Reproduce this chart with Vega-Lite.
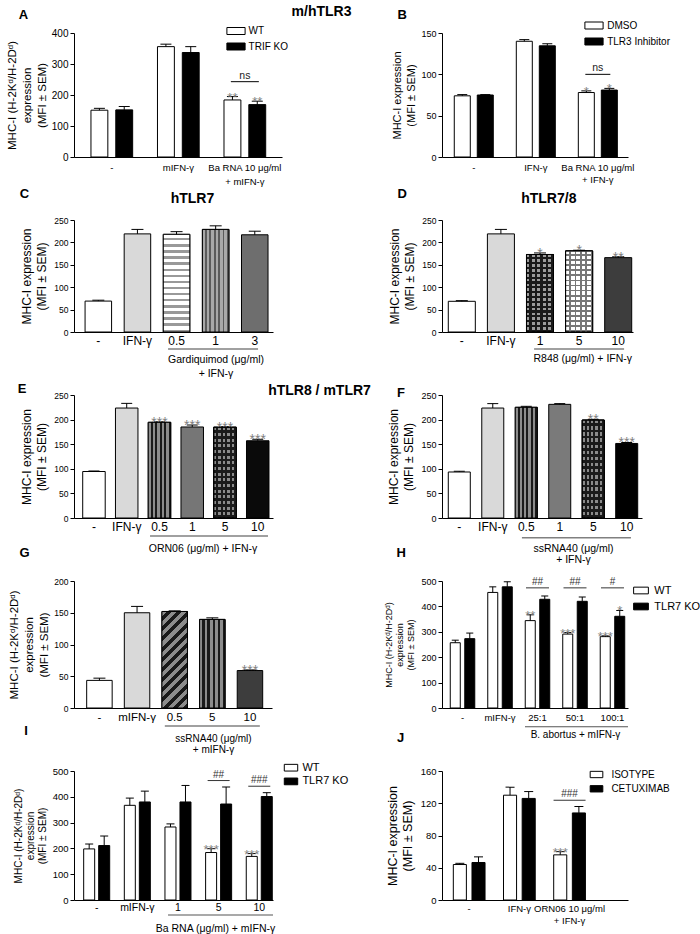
{
"$schema": "https://vega.github.io/schema/vega-lite/v6.json",
"background": "white",
"padding": {"left": 6, "top": 4, "right": 0, "bottom": 0},
"config": {
  "font": "Liberation Sans",
  "view": {"stroke": null},
  "axis": {"domainColor": "black", "tickColor": "black", "labelColor": "black", "titleColor": "black", "grid": false, "titleFontWeight": "normal", "domainWidth": 1, "tickWidth": 1},
  "legend": {"labelColor": "black"}
},
"columns": 2,
"spacing": {"row": 63, "column": 160},
"bounds": "flush",
"align": "each",
"resolve": {"scale": {"fill": "independent", "xOffset": "independent", "x": "independent", "y": "independent"}, "legend": {"fill": "independent"}},
"concat": [
{
 "width": 208, "height": 124,
 "data": {"values": [
  {"grp": "-", "ser": "WT", "value": 151, "hi": 157, "sig": ""},
  {"grp": "-", "ser": "TRIF KO", "value": 152, "hi": 163, "sig": ""},
  {"grp": "mIFN-γ", "ser": "WT", "value": 356, "hi": 364, "sig": ""},
  {"grp": "mIFN-γ", "ser": "TRIF KO", "value": 337, "hi": 356, "sig": ""},
  {"grp": "Ba RNA 10 μg/ml|+ mIFN-γ", "ser": "WT", "value": 184, "hi": 195, "sig": "**"},
  {"grp": "Ba RNA 10 μg/ml|+ mIFN-γ", "ser": "TRIF KO", "value": 169, "hi": 180, "sig": "**"}
 ]},
 "resolve": {"axis": {"x": "independent", "y": "independent"}},
 "encoding": {"x": {"field": "grp", "type": "nominal", "axis": null}},
 "layer": [
  {"mark": {"type": "bar", "stroke": "black", "strokeWidth": 1, "opacity": 1},
   "encoding": {
    "x": {"field": "grp", "type": "nominal", "scale": {"domain": ["-", "mIFN-γ", "Ba RNA 10 μg/ml|+ mIFN-γ"], "paddingInner": 0.373, "paddingOuter": 0.25, "align": 0.51},
          "axis": {"title": null, "ticks": false, "labelAngle": 0, "labelOverlap": false, "labelLimit": 0, "labelFontSize": 9.5, "labelPadding": 5, "labelLineHeight": 14, "labelExpr": "split(datum.label, '|')"}},
    "xOffset": {"field": "ser", "type": "nominal", "scale": {"domain": ["WT", "TRIF KO"], "paddingInner": 0.32, "paddingOuter": 0}},
    "y": {"field": "value", "type": "quantitative", "scale": {"domain": [0, 400], "nice": false},
          "axis": {"values": [0, 100, 200, 300, 400], "title": ["MHC-I (H-2Kᵈ/H-2Dᵈ)", "expression", "(MFI ± SEM)"], "titleFontSize": 11.5, "titleLineHeight": 15, "labelFontSize": 10, "tickSize": 4, "labelPadding": 2, "titlePadding": 4}},
    "fill": {"field": "ser", "type": "nominal", "scale": {"domain": ["WT", "TRIF KO"], "range": ["white", "black"]},
          "legend": {"orient": "none", "legendX": 157, "legendY": -7, "title": null, "symbolType": "M-2.6,-1H2.6V1H-2.6Z", "symbolSize": 49, "symbolStrokeColor": "black", "symbolStrokeWidth": 1, "labelFontSize": 10, "labelOffset": 7.6, "rowPadding": 3.5}}
   }},
  {"mark": {"type": "rule", "color": "black"}, "encoding": {"xOffset": {"field": "ser", "type": "nominal"}, "y": {"field": "value", "type": "quantitative", "axis": null}, "y2": {"field": "hi"}}},
  {"mark": {"type": "tick", "color": "black", "size": 11, "thickness": 1, "opacity": 1},
   "encoding": {"xOffset": {"field": "ser", "type": "nominal"},
    "y": {"field": "hi", "type": "quantitative", "axis": {"orient": "left", "title": "A", "domain": false, "ticks": false, "labels": false, "grid": false, "titleAngle": 0, "titleAlign": "center", "titleBaseline": "alphabetic", "titleFontSize": 13, "titleFontWeight": "bold", "titleX": -51, "titleY": -14.7}},
    "x": {"field": "grp", "type": "nominal", "axis": {"orient": "top", "title": "m/hTLR3", "domain": false, "ticks": false, "labels": false, "grid": false, "titleAngle": 0, "titleAlign": "center", "titleBaseline": "alphabetic", "titleFontSize": 14, "titleFontWeight": "bold", "titleX": 247, "titleY": -17.5}}}},
  {"mark": {"type": "text", "color": "#808080", "fontSize": 13, "baseline": "alphabetic", "dy": 5},
   "encoding": {"xOffset": {"field": "ser", "type": "nominal"}, "y": {"field": "hi", "type": "quantitative", "axis": null}, "text": {"field": "sig"}}},
  {"data": {"values": [{"grp": "Ba RNA 10 μg/ml|+ mIFN-γ", "lbl": "ns", "yv": 243}]},
   "mark": {"type": "tick", "color": "black", "size": 28, "thickness": 1, "opacity": 1},
   "encoding": {"y": {"field": "yv", "type": "quantitative", "axis": null}}},
  {"data": {"values": [{"grp": "Ba RNA 10 μg/ml|+ mIFN-γ", "lbl": "ns", "yv": 243}]},
   "mark": {"type": "text", "color": "#222222", "fontSize": 10.5, "baseline": "alphabetic", "dy": -3},
   "encoding": {"y": {"field": "yv", "type": "quantitative", "axis": null}, "text": {"field": "lbl"}}}
 ]
},
{
 "width": 186, "height": 124,
 "data": {"values": [
  {"grp": "-", "ser": "DMSO", "value": 74, "hi": 75.5, "sig": ""},
  {"grp": "-", "ser": "TLR3 Inhibitor", "value": 75, "hi": 75.5, "sig": ""},
  {"grp": "IFN-γ", "ser": "DMSO", "value": 140, "hi": 142, "sig": ""},
  {"grp": "IFN-γ", "ser": "TLR3 Inhibitor", "value": 134.5, "hi": 137, "sig": ""},
  {"grp": "Ba RNA 10 μg/ml|+ IFN-γ", "ser": "DMSO", "value": 78, "hi": 80, "sig": "*"},
  {"grp": "Ba RNA 10 μg/ml|+ IFN-γ", "ser": "TLR3 Inhibitor", "value": 81, "hi": 83, "sig": "*"}
 ]},
 "resolve": {"axis": {"x": "independent", "y": "independent"}},
 "encoding": {"x": {"field": "grp", "type": "nominal", "axis": null}},
 "layer": [
  {"mark": {"type": "bar", "stroke": "black", "strokeWidth": 1, "opacity": 1},
   "encoding": {
    "x": {"field": "grp", "type": "nominal", "scale": {"domain": ["-", "IFN-γ", "Ba RNA 10 μg/ml|+ IFN-γ"], "paddingInner": 0.371, "paddingOuter": 0.185, "align": 0.535},
          "axis": {"title": null, "ticks": false, "labelAngle": 0, "labelOverlap": false, "labelLimit": 0, "labelFontSize": 9.5, "labelPadding": 5, "labelLineHeight": 12.5, "labelExpr": "split(datum.label, '|')"}},
    "xOffset": {"field": "ser", "type": "nominal", "scale": {"domain": ["DMSO", "TLR3 Inhibitor"], "paddingInner": 0.304, "paddingOuter": 0}},
    "y": {"field": "value", "type": "quantitative", "scale": {"domain": [0, 150], "nice": false},
          "axis": {"values": [0, 50, 100, 150], "title": ["MHC-I expression", "(MFI ± SEM)"], "titleFontSize": 11, "titleLineHeight": 14, "labelFontSize": 9, "tickSize": 4, "labelPadding": 2, "titlePadding": 4}},
    "fill": {"field": "ser", "type": "nominal", "scale": {"domain": ["DMSO", "TLR3 Inhibitor"], "range": ["white", "black"]},
          "legend": {"orient": "none", "legendX": 147, "legendY": -12.5, "title": null, "symbolType": "M-2.6,-1H2.6V1H-2.6Z", "symbolSize": 49, "symbolStrokeColor": "black", "symbolStrokeWidth": 1, "labelFontSize": 10, "labelOffset": 8.2, "rowPadding": 4}}
   }},
  {"mark": {"type": "rule", "color": "black"}, "encoding": {"xOffset": {"field": "ser", "type": "nominal"}, "y": {"field": "value", "type": "quantitative", "axis": null}, "y2": {"field": "hi"}}},
  {"mark": {"type": "tick", "color": "black", "size": 10, "thickness": 1, "opacity": 1},
   "encoding": {"xOffset": {"field": "ser", "type": "nominal"},
    "y": {"field": "hi", "type": "quantitative", "axis": {"orient": "left", "title": "B", "domain": false, "ticks": false, "labels": false, "grid": false, "titleAngle": 0, "titleAlign": "center", "titleBaseline": "alphabetic", "titleFontSize": 13, "titleFontWeight": "bold", "titleX": -40.3, "titleY": -14.7}}}},
  {"mark": {"type": "text", "color": "#808080", "fontSize": 13, "baseline": "alphabetic", "dy": 5},
   "encoding": {"xOffset": {"field": "ser", "type": "nominal"}, "y": {"field": "hi", "type": "quantitative", "axis": null}, "text": {"field": "sig"}}},
  {"data": {"values": [{"grp": "Ba RNA 10 μg/ml|+ IFN-γ", "lbl": "ns", "yv": 100}]},
   "mark": {"type": "tick", "color": "black", "size": 25, "thickness": 1, "opacity": 1},
   "encoding": {"y": {"field": "yv", "type": "quantitative", "axis": null}}},
  {"data": {"values": [{"grp": "Ba RNA 10 μg/ml|+ IFN-γ", "lbl": "ns", "yv": 100}]},
   "mark": {"type": "text", "color": "#222222", "fontSize": 10.5, "baseline": "alphabetic", "dy": -3},
   "encoding": {"y": {"field": "yv", "type": "quantitative", "axis": null}, "text": {"field": "lbl"}}}
 ]
},
{
 "width": 199, "height": 112,
 "data": {"values": [
  {"cond": "-", "value": 69, "hi": 71, "sig": ""},
  {"cond": "IFN-γ", "value": 219, "hi": 229, "sig": ""},
  {"cond": "0.5", "value": 218, "hi": 224, "sig": ""},
  {"cond": "1", "value": 229, "hi": 237, "sig": ""},
  {"cond": "3", "value": 217, "hi": 225, "sig": ""}
 ]},
 "resolve": {"axis": {"x": "independent", "y": "independent"}},
 "encoding": {"x": {"field": "cond", "type": "nominal", "axis": null}},
 "layer": [
  {"mark": {"type": "bar", "stroke": "black", "strokeWidth": 1, "opacity": 1},
   "encoding": {
    "x": {"field": "cond", "type": "nominal", "scale": {"domain": ["-", "IFN-γ", "0.5", "1", "3"], "paddingInner": 0.322, "paddingOuter": 0.205, "align": 0.69},
          "axis": {"ticks": false, "labelAngle": 0, "labelOverlap": false, "labelLimit": 0, "labelFontSize": 12, "labelPadding": 3,
                   "title": ["Gardiquimod (μg/ml)", "+  IFN-γ"], "titleX": 141.5, "titleY": 30, "titleFontSize": 10.5, "titleLineHeight": 14, "titleAlign": "center", "titleBaseline": "alphabetic"}},
    "y": {"field": "value", "type": "quantitative", "scale": {"domain": [0, 250], "nice": false},
          "axis": {"values": [0, 50, 100, 150, 200, 250], "title": ["MHC-I expression", "(MFI ± SEM)"], "titleFontSize": 12, "titleLineHeight": 15, "labelFontSize": 8.5, "tickSize": 4, "labelPadding": 2, "titlePadding": 5}},
    "fill": {"field": "cond", "type": "nominal", "scale": {"domain": ["-", "IFN-γ", "0.5", "1", "3"], "range": ["white", "#d9d9d9", "white", "#8a8a8a", "#6e6e6e"]}, "legend": null}
   }},
  {"transform": [{"filter": "datum.cond == '0.5'"}],
   "encoding": {"y": {"field": "value", "type": "quantitative", "axis": null}},
   "mark": {"type": "bar", "stroke": "black", "strokeWidth": 1, "opacity": 1, "fill": {"gradient": "linear", "x1": 0, "y1": 0, "x2": 0, "y2": 1, "stops": [
    {"offset": 0, "color": "#ffffff"}, {"offset": 0.0375, "color": "#ffffff"}, {"offset": 0.0375, "color": "#999999"}, {"offset": 0.0625, "color": "#999999"},
    {"offset": 0.0625, "color": "#ffffff"}, {"offset": 0.1, "color": "#ffffff"}, {"offset": 0.1, "color": "#999999"}, {"offset": 0.125, "color": "#999999"},
    {"offset": 0.125, "color": "#ffffff"}, {"offset": 0.1625, "color": "#ffffff"}, {"offset": 0.1625, "color": "#999999"}, {"offset": 0.1875, "color": "#999999"},
    {"offset": 0.1875, "color": "#ffffff"}, {"offset": 0.225, "color": "#ffffff"}, {"offset": 0.225, "color": "#999999"}, {"offset": 0.25, "color": "#999999"},
    {"offset": 0.25, "color": "#ffffff"}, {"offset": 0.2875, "color": "#ffffff"}, {"offset": 0.2875, "color": "#999999"}, {"offset": 0.3125, "color": "#999999"},
    {"offset": 0.3125, "color": "#ffffff"}, {"offset": 0.35, "color": "#ffffff"}, {"offset": 0.35, "color": "#999999"}, {"offset": 0.375, "color": "#999999"},
    {"offset": 0.375, "color": "#ffffff"}, {"offset": 0.4125, "color": "#ffffff"}, {"offset": 0.4125, "color": "#999999"}, {"offset": 0.4375, "color": "#999999"},
    {"offset": 0.4375, "color": "#ffffff"}, {"offset": 0.475, "color": "#ffffff"}, {"offset": 0.475, "color": "#999999"}, {"offset": 0.5, "color": "#999999"},
    {"offset": 0.5, "color": "#ffffff"}, {"offset": 0.5375, "color": "#ffffff"}, {"offset": 0.5375, "color": "#999999"}, {"offset": 0.5625, "color": "#999999"},
    {"offset": 0.5625, "color": "#ffffff"}, {"offset": 0.6, "color": "#ffffff"}, {"offset": 0.6, "color": "#999999"}, {"offset": 0.625, "color": "#999999"},
    {"offset": 0.625, "color": "#ffffff"}, {"offset": 0.6625, "color": "#ffffff"}, {"offset": 0.6625, "color": "#999999"}, {"offset": 0.6875, "color": "#999999"},
    {"offset": 0.6875, "color": "#ffffff"}, {"offset": 0.725, "color": "#ffffff"}, {"offset": 0.725, "color": "#999999"}, {"offset": 0.75, "color": "#999999"},
    {"offset": 0.75, "color": "#ffffff"}, {"offset": 0.7875, "color": "#ffffff"}, {"offset": 0.7875, "color": "#999999"}, {"offset": 0.8125, "color": "#999999"},
    {"offset": 0.8125, "color": "#ffffff"}, {"offset": 0.85, "color": "#ffffff"}, {"offset": 0.85, "color": "#999999"}, {"offset": 0.875, "color": "#999999"},
    {"offset": 0.875, "color": "#ffffff"}, {"offset": 0.9125, "color": "#ffffff"}, {"offset": 0.9125, "color": "#999999"}, {"offset": 0.9375, "color": "#999999"},
    {"offset": 0.9375, "color": "#ffffff"}, {"offset": 0.975, "color": "#ffffff"}, {"offset": 0.975, "color": "#999999"}, {"offset": 1, "color": "#999999"}]}}},
  {"transform": [{"filter": "datum.cond == '1'"}],
   "encoding": {"y": {"field": "value", "type": "quantitative", "axis": null}},
   "mark": {"type": "bar", "stroke": "black", "strokeWidth": 1, "opacity": 1, "fill": {"gradient": "linear", "x1": 0, "y1": 0, "x2": 1, "y2": 0, "stops": [
    {"offset": 0, "color": "#a8a8a8"}, {"offset": 0.1, "color": "#a8a8a8"}, {"offset": 0.1, "color": "#5a5a5a"}, {"offset": 0.1667, "color": "#5a5a5a"},
    {"offset": 0.1667, "color": "#a8a8a8"}, {"offset": 0.2667, "color": "#a8a8a8"}, {"offset": 0.2667, "color": "#5a5a5a"}, {"offset": 0.3333, "color": "#5a5a5a"},
    {"offset": 0.3333, "color": "#a8a8a8"}, {"offset": 0.4333, "color": "#a8a8a8"}, {"offset": 0.4333, "color": "#5a5a5a"}, {"offset": 0.5, "color": "#5a5a5a"},
    {"offset": 0.5, "color": "#a8a8a8"}, {"offset": 0.6, "color": "#a8a8a8"}, {"offset": 0.6, "color": "#5a5a5a"}, {"offset": 0.6667, "color": "#5a5a5a"},
    {"offset": 0.6667, "color": "#a8a8a8"}, {"offset": 0.7667, "color": "#a8a8a8"}, {"offset": 0.7667, "color": "#5a5a5a"}, {"offset": 0.8333, "color": "#5a5a5a"},
    {"offset": 0.8333, "color": "#a8a8a8"}, {"offset": 0.9333, "color": "#a8a8a8"}, {"offset": 0.9333, "color": "#5a5a5a"}, {"offset": 1, "color": "#5a5a5a"}]}}},
  {"mark": {"type": "rule", "color": "black"}, "encoding": {"y": {"field": "value", "type": "quantitative", "axis": null}, "y2": {"field": "hi"}}},
  {"mark": {"type": "tick", "color": "black", "size": 12, "thickness": 1, "opacity": 1},
   "encoding": {
    "y": {"field": "hi", "type": "quantitative", "axis": {"orient": "left", "title": "C", "domain": false, "ticks": false, "labels": false, "grid": false, "titleAngle": 0, "titleAlign": "center", "titleBaseline": "alphabetic", "titleFontSize": 13, "titleFontWeight": "bold", "titleX": -50, "titleY": -22.3}},
    "x": {"field": "cond", "type": "nominal", "axis": {"orient": "top", "title": "hTLR7", "domain": false, "ticks": false, "labels": false, "grid": false, "titleAngle": 0, "titleAlign": "center", "titleBaseline": "alphabetic", "titleFontSize": 14, "titleFontWeight": "bold", "titleX": 118, "titleY": -17.5}}}},
  {"mark": {"type": "text", "color": "#808080", "fontSize": 14, "baseline": "alphabetic", "dy": 5},
   "encoding": {"y": {"field": "hi", "type": "quantitative", "axis": null}, "text": {"field": "sig"}}},
  {"data": {"values": [{"cond": "1"}]},
   "mark": {"type": "tick", "color": "#808080", "thickness": 1.5, "size": 90, "xOffset": -2.6, "opacity": 1},
   "encoding": {"y": {"datum": -38, "type": "quantitative", "axis": null}}}
 ]
},
{
 "width": 191, "height": 112,
 "data": {"values": [
  {"cond": "-", "value": 68.5, "hi": 70, "sig": ""},
  {"cond": "IFN-γ", "value": 219, "hi": 229, "sig": ""},
  {"cond": "1", "value": 173, "hi": 176.5, "sig": "*"},
  {"cond": "5", "value": 181, "hi": 182.5, "sig": "*"},
  {"cond": "10", "value": 166, "hi": 168, "sig": "**"}
 ]},
 "resolve": {"axis": {"x": "independent", "y": "independent"}},
 "encoding": {"x": {"field": "cond", "type": "nominal", "axis": null}},
 "layer": [
  {"mark": {"type": "bar", "stroke": "black", "strokeWidth": 1, "opacity": 1},
   "encoding": {
    "x": {"field": "cond", "type": "nominal", "scale": {"domain": ["-", "IFN-γ", "1", "5", "10"], "paddingInner": 0.309, "paddingOuter": 0.097, "align": 0.83},
          "axis": {"ticks": false, "labelAngle": 0, "labelOverlap": false, "labelLimit": 0, "labelFontSize": 12, "labelPadding": 3,
                   "title": "R848 (μg/ml) + IFN-γ", "titleX": 140.3, "titleY": 29, "titleFontSize": 10.5, "titleAlign": "center", "titleBaseline": "alphabetic"}},
    "y": {"field": "value", "type": "quantitative", "scale": {"domain": [0, 250], "nice": false},
          "axis": {"values": [0, 50, 100, 150, 200, 250], "title": ["MHC-I expression", "(MFI ± SEM)"], "titleFontSize": 12, "titleLineHeight": 15, "labelFontSize": 8.5, "tickSize": 4, "labelPadding": 2, "titlePadding": 5}},
    "fill": {"field": "cond", "type": "nominal", "scale": {"domain": ["-", "IFN-γ", "1", "5", "10"], "range": ["white", "#d9d9d9", "#3a3a3a", "#a6a6a6", "#3d3d3d"]}, "legend": null}
   }},
  {"transform": [{"filter": "datum.cond == '1'"}],
   "encoding": {"y": {"field": "value", "type": "quantitative", "axis": null}},
   "mark": {"type": "bar", "stroke": "black", "strokeWidth": 1, "opacity": 1, "fill": {"gradient": "linear", "x1": 0, "y1": 0, "x2": 0, "y2": 1, "stops": [
    {"offset": 0, "color": "#9c9c9c"}, {"offset": 0.0344, "color": "#9c9c9c"}, {"offset": 0.0344, "color": "#1a1a1a"}, {"offset": 0.0625, "color": "#1a1a1a"},
    {"offset": 0.0625, "color": "#9c9c9c"}, {"offset": 0.0969, "color": "#9c9c9c"}, {"offset": 0.0969, "color": "#1a1a1a"}, {"offset": 0.125, "color": "#1a1a1a"},
    {"offset": 0.125, "color": "#9c9c9c"}, {"offset": 0.1594, "color": "#9c9c9c"}, {"offset": 0.1594, "color": "#1a1a1a"}, {"offset": 0.1875, "color": "#1a1a1a"},
    {"offset": 0.1875, "color": "#9c9c9c"}, {"offset": 0.2219, "color": "#9c9c9c"}, {"offset": 0.2219, "color": "#1a1a1a"}, {"offset": 0.25, "color": "#1a1a1a"},
    {"offset": 0.25, "color": "#9c9c9c"}, {"offset": 0.2844, "color": "#9c9c9c"}, {"offset": 0.2844, "color": "#1a1a1a"}, {"offset": 0.3125, "color": "#1a1a1a"},
    {"offset": 0.3125, "color": "#9c9c9c"}, {"offset": 0.3469, "color": "#9c9c9c"}, {"offset": 0.3469, "color": "#1a1a1a"}, {"offset": 0.375, "color": "#1a1a1a"},
    {"offset": 0.375, "color": "#9c9c9c"}, {"offset": 0.4094, "color": "#9c9c9c"}, {"offset": 0.4094, "color": "#1a1a1a"}, {"offset": 0.4375, "color": "#1a1a1a"},
    {"offset": 0.4375, "color": "#9c9c9c"}, {"offset": 0.4719, "color": "#9c9c9c"}, {"offset": 0.4719, "color": "#1a1a1a"}, {"offset": 0.5, "color": "#1a1a1a"},
    {"offset": 0.5, "color": "#9c9c9c"}, {"offset": 0.5344, "color": "#9c9c9c"}, {"offset": 0.5344, "color": "#1a1a1a"}, {"offset": 0.5625, "color": "#1a1a1a"},
    {"offset": 0.5625, "color": "#9c9c9c"}, {"offset": 0.5969, "color": "#9c9c9c"}, {"offset": 0.5969, "color": "#1a1a1a"}, {"offset": 0.625, "color": "#1a1a1a"},
    {"offset": 0.625, "color": "#9c9c9c"}, {"offset": 0.6594, "color": "#9c9c9c"}, {"offset": 0.6594, "color": "#1a1a1a"}, {"offset": 0.6875, "color": "#1a1a1a"},
    {"offset": 0.6875, "color": "#9c9c9c"}, {"offset": 0.7219, "color": "#9c9c9c"}, {"offset": 0.7219, "color": "#1a1a1a"}, {"offset": 0.75, "color": "#1a1a1a"},
    {"offset": 0.75, "color": "#9c9c9c"}, {"offset": 0.7844, "color": "#9c9c9c"}, {"offset": 0.7844, "color": "#1a1a1a"}, {"offset": 0.8125, "color": "#1a1a1a"},
    {"offset": 0.8125, "color": "#9c9c9c"}, {"offset": 0.8469, "color": "#9c9c9c"}, {"offset": 0.8469, "color": "#1a1a1a"}, {"offset": 0.875, "color": "#1a1a1a"},
    {"offset": 0.875, "color": "#9c9c9c"}, {"offset": 0.9094, "color": "#9c9c9c"}, {"offset": 0.9094, "color": "#1a1a1a"}, {"offset": 0.9375, "color": "#1a1a1a"},
    {"offset": 0.9375, "color": "#9c9c9c"}, {"offset": 0.9719, "color": "#9c9c9c"}, {"offset": 0.9719, "color": "#1a1a1a"}, {"offset": 1, "color": "#1a1a1a"}]}}},
  {"transform": [{"filter": "datum.cond == '1'"}],
   "encoding": {"y": {"field": "value", "type": "quantitative", "axis": null}},
   "mark": {"type": "bar", "stroke": "black", "strokeWidth": 1, "opacity": 1, "fill": {"gradient": "linear", "x1": 0, "y1": 0, "x2": 1, "y2": 0, "stops": [
    {"offset": 0, "color": "rgba(0,0,0,0)"}, {"offset": 0.11, "color": "rgba(0,0,0,0)"}, {"offset": 0.11, "color": "#1a1a1a"}, {"offset": 0.2, "color": "#1a1a1a"},
    {"offset": 0.2, "color": "rgba(0,0,0,0)"}, {"offset": 0.31, "color": "rgba(0,0,0,0)"}, {"offset": 0.31, "color": "#1a1a1a"}, {"offset": 0.4, "color": "#1a1a1a"},
    {"offset": 0.4, "color": "rgba(0,0,0,0)"}, {"offset": 0.51, "color": "rgba(0,0,0,0)"}, {"offset": 0.51, "color": "#1a1a1a"}, {"offset": 0.6, "color": "#1a1a1a"},
    {"offset": 0.6, "color": "rgba(0,0,0,0)"}, {"offset": 0.71, "color": "rgba(0,0,0,0)"}, {"offset": 0.71, "color": "#1a1a1a"}, {"offset": 0.8, "color": "#1a1a1a"},
    {"offset": 0.8, "color": "rgba(0,0,0,0)"}, {"offset": 0.91, "color": "rgba(0,0,0,0)"}, {"offset": 0.91, "color": "#1a1a1a"}, {"offset": 1, "color": "#1a1a1a"}]}}},
  {"transform": [{"filter": "datum.cond == '5'"}],
   "encoding": {"y": {"field": "value", "type": "quantitative", "axis": null}},
   "mark": {"type": "bar", "stroke": "black", "strokeWidth": 1, "opacity": 1, "fill": {"gradient": "linear", "x1": 0, "y1": 0, "x2": 0, "y2": 1, "stops": [
    {"offset": 0, "color": "#ffffff"}, {"offset": 0.0406, "color": "#ffffff"}, {"offset": 0.0406, "color": "#777777"}, {"offset": 0.0625, "color": "#777777"},
    {"offset": 0.0625, "color": "#ffffff"}, {"offset": 0.1031, "color": "#ffffff"}, {"offset": 0.1031, "color": "#777777"}, {"offset": 0.125, "color": "#777777"},
    {"offset": 0.125, "color": "#ffffff"}, {"offset": 0.1656, "color": "#ffffff"}, {"offset": 0.1656, "color": "#777777"}, {"offset": 0.1875, "color": "#777777"},
    {"offset": 0.1875, "color": "#ffffff"}, {"offset": 0.2281, "color": "#ffffff"}, {"offset": 0.2281, "color": "#777777"}, {"offset": 0.25, "color": "#777777"},
    {"offset": 0.25, "color": "#ffffff"}, {"offset": 0.2906, "color": "#ffffff"}, {"offset": 0.2906, "color": "#777777"}, {"offset": 0.3125, "color": "#777777"},
    {"offset": 0.3125, "color": "#ffffff"}, {"offset": 0.3531, "color": "#ffffff"}, {"offset": 0.3531, "color": "#777777"}, {"offset": 0.375, "color": "#777777"},
    {"offset": 0.375, "color": "#ffffff"}, {"offset": 0.4156, "color": "#ffffff"}, {"offset": 0.4156, "color": "#777777"}, {"offset": 0.4375, "color": "#777777"},
    {"offset": 0.4375, "color": "#ffffff"}, {"offset": 0.4781, "color": "#ffffff"}, {"offset": 0.4781, "color": "#777777"}, {"offset": 0.5, "color": "#777777"},
    {"offset": 0.5, "color": "#ffffff"}, {"offset": 0.5406, "color": "#ffffff"}, {"offset": 0.5406, "color": "#777777"}, {"offset": 0.5625, "color": "#777777"},
    {"offset": 0.5625, "color": "#ffffff"}, {"offset": 0.6031, "color": "#ffffff"}, {"offset": 0.6031, "color": "#777777"}, {"offset": 0.625, "color": "#777777"},
    {"offset": 0.625, "color": "#ffffff"}, {"offset": 0.6656, "color": "#ffffff"}, {"offset": 0.6656, "color": "#777777"}, {"offset": 0.6875, "color": "#777777"},
    {"offset": 0.6875, "color": "#ffffff"}, {"offset": 0.7281, "color": "#ffffff"}, {"offset": 0.7281, "color": "#777777"}, {"offset": 0.75, "color": "#777777"},
    {"offset": 0.75, "color": "#ffffff"}, {"offset": 0.7906, "color": "#ffffff"}, {"offset": 0.7906, "color": "#777777"}, {"offset": 0.8125, "color": "#777777"},
    {"offset": 0.8125, "color": "#ffffff"}, {"offset": 0.8531, "color": "#ffffff"}, {"offset": 0.8531, "color": "#777777"}, {"offset": 0.875, "color": "#777777"},
    {"offset": 0.875, "color": "#ffffff"}, {"offset": 0.9156, "color": "#ffffff"}, {"offset": 0.9156, "color": "#777777"}, {"offset": 0.9375, "color": "#777777"},
    {"offset": 0.9375, "color": "#ffffff"}, {"offset": 0.9781, "color": "#ffffff"}, {"offset": 0.9781, "color": "#777777"}, {"offset": 1, "color": "#777777"}]}}},
  {"transform": [{"filter": "datum.cond == '5'"}],
   "encoding": {"y": {"field": "value", "type": "quantitative", "axis": null}},
   "mark": {"type": "bar", "stroke": "black", "strokeWidth": 1, "opacity": 1, "fill": {"gradient": "linear", "x1": 0, "y1": 0, "x2": 1, "y2": 0, "stops": [
    {"offset": 0, "color": "rgba(0,0,0,0)"}, {"offset": 0.13, "color": "rgba(0,0,0,0)"}, {"offset": 0.13, "color": "#777777"}, {"offset": 0.2, "color": "#777777"},
    {"offset": 0.2, "color": "rgba(0,0,0,0)"}, {"offset": 0.33, "color": "rgba(0,0,0,0)"}, {"offset": 0.33, "color": "#777777"}, {"offset": 0.4, "color": "#777777"},
    {"offset": 0.4, "color": "rgba(0,0,0,0)"}, {"offset": 0.53, "color": "rgba(0,0,0,0)"}, {"offset": 0.53, "color": "#777777"}, {"offset": 0.6, "color": "#777777"},
    {"offset": 0.6, "color": "rgba(0,0,0,0)"}, {"offset": 0.73, "color": "rgba(0,0,0,0)"}, {"offset": 0.73, "color": "#777777"}, {"offset": 0.8, "color": "#777777"},
    {"offset": 0.8, "color": "rgba(0,0,0,0)"}, {"offset": 0.93, "color": "rgba(0,0,0,0)"}, {"offset": 0.93, "color": "#777777"}, {"offset": 1, "color": "#777777"}]}}},
  {"mark": {"type": "rule", "color": "black"}, "encoding": {"y": {"field": "value", "type": "quantitative", "axis": null}, "y2": {"field": "hi"}}},
  {"mark": {"type": "tick", "color": "black", "size": 12, "thickness": 1, "opacity": 1},
   "encoding": {
    "y": {"field": "hi", "type": "quantitative", "axis": {"orient": "left", "title": "D", "domain": false, "ticks": false, "labels": false, "grid": false, "titleAngle": 0, "titleAlign": "center", "titleBaseline": "alphabetic", "titleFontSize": 13, "titleFontWeight": "bold", "titleX": -40.3, "titleY": -23}},
    "x": {"field": "cond", "type": "nominal", "axis": {"orient": "top", "title": "hTLR7/8", "domain": false, "ticks": false, "labels": false, "grid": false, "titleAngle": 0, "titleAlign": "center", "titleBaseline": "alphabetic", "titleFontSize": 14, "titleFontWeight": "bold", "titleX": 106.3, "titleY": -17.5}}}},
  {"mark": {"type": "text", "color": "#808080", "fontSize": 14, "baseline": "alphabetic", "dy": 5},
   "encoding": {"y": {"field": "hi", "type": "quantitative", "axis": null}, "text": {"field": "sig"}}},
  {"data": {"values": [{"cond": "5"}]},
   "mark": {"type": "tick", "color": "#808080", "thickness": 1.5, "size": 90, "xOffset": 0, "opacity": 1},
   "encoding": {"y": {"datum": -38, "type": "quantitative", "axis": null}}}
 ]
},
{
 "width": 199, "height": 123,
 "data": {"values": [
  {"cond": "-", "value": 94.5, "hi": 95.5, "sig": ""},
  {"cond": "IFN-γ", "value": 223.5, "hi": 233, "sig": ""},
  {"cond": "0.5", "value": 194.5, "hi": 195.5, "sig": "***"},
  {"cond": "1", "value": 185, "hi": 189, "sig": "***"},
  {"cond": "5", "value": 184.5, "hi": 185.5, "sig": "***"},
  {"cond": "10", "value": 157, "hi": 160, "sig": "***"}
 ]},
 "resolve": {"axis": {"x": "independent", "y": "independent"}},
 "encoding": {"x": {"field": "cond", "type": "nominal", "axis": null}},
 "layer": [
  {"mark": {"type": "bar", "stroke": "black", "strokeWidth": 1, "opacity": 1},
   "encoding": {
    "x": {"field": "cond", "type": "nominal", "scale": {"domain": ["-", "IFN-γ", "0.5", "1", "5", "10"], "paddingInner": 0.313, "paddingOuter": 0.194, "align": 0.685},
          "axis": {"ticks": false, "labelAngle": 0, "labelOverlap": false, "labelLimit": 0, "labelFontSize": 12, "labelPadding": 3,
                   "title": "ORN06 (μg/ml) + IFN-γ", "titleX": 128.5, "titleY": 33, "titleFontSize": 10.5, "titleAlign": "center", "titleBaseline": "alphabetic"}},
    "y": {"field": "value", "type": "quantitative", "scale": {"domain": [0, 250], "nice": false},
          "axis": {"values": [0, 50, 100, 150, 200, 250], "title": ["MHC-I expression", "(MFI ± SEM)"], "titleFontSize": 12, "titleLineHeight": 15, "labelFontSize": 8.5, "tickSize": 4, "labelPadding": 2, "titlePadding": 5}},
    "fill": {"field": "cond", "type": "nominal", "scale": {"domain": ["-", "IFN-γ", "0.5", "1", "5", "10"], "range": ["white", "#d9d9d9", "#555555", "#767676", "#3a3a3a", "#0a0a0a"]}, "legend": null}
   }},
  {"transform": [{"filter": "datum.cond == '0.5'"}],
   "encoding": {"y": {"field": "value", "type": "quantitative", "axis": null}},
   "mark": {"type": "bar", "stroke": "black", "strokeWidth": 1, "opacity": 1, "fill": {"gradient": "linear", "x1": 0, "y1": 0, "x2": 1, "y2": 0, "stops": [
    {"offset": 0, "color": "#8c8c8c"}, {"offset": 0.11, "color": "#8c8c8c"}, {"offset": 0.11, "color": "#1a1a1a"}, {"offset": 0.2, "color": "#1a1a1a"},
    {"offset": 0.2, "color": "#8c8c8c"}, {"offset": 0.31, "color": "#8c8c8c"}, {"offset": 0.31, "color": "#1a1a1a"}, {"offset": 0.4, "color": "#1a1a1a"},
    {"offset": 0.4, "color": "#8c8c8c"}, {"offset": 0.51, "color": "#8c8c8c"}, {"offset": 0.51, "color": "#1a1a1a"}, {"offset": 0.6, "color": "#1a1a1a"},
    {"offset": 0.6, "color": "#8c8c8c"}, {"offset": 0.71, "color": "#8c8c8c"}, {"offset": 0.71, "color": "#1a1a1a"}, {"offset": 0.8, "color": "#1a1a1a"},
    {"offset": 0.8, "color": "#8c8c8c"}, {"offset": 0.91, "color": "#8c8c8c"}, {"offset": 0.91, "color": "#1a1a1a"}, {"offset": 1, "color": "#1a1a1a"}]}}},
  {"transform": [{"filter": "datum.cond == '5'"}],
   "encoding": {"y": {"field": "value", "type": "quantitative", "axis": null}},
   "mark": {"type": "bar", "stroke": "black", "strokeWidth": 1, "opacity": 1, "fill": {"gradient": "linear", "x1": 0, "y1": 0, "x2": 0, "y2": 1, "stops": [
    {"offset": 0, "color": "#8a8a8a"}, {"offset": 0.0344, "color": "#8a8a8a"}, {"offset": 0.0344, "color": "#1a1a1a"}, {"offset": 0.0625, "color": "#1a1a1a"},
    {"offset": 0.0625, "color": "#8a8a8a"}, {"offset": 0.0969, "color": "#8a8a8a"}, {"offset": 0.0969, "color": "#1a1a1a"}, {"offset": 0.125, "color": "#1a1a1a"},
    {"offset": 0.125, "color": "#8a8a8a"}, {"offset": 0.1594, "color": "#8a8a8a"}, {"offset": 0.1594, "color": "#1a1a1a"}, {"offset": 0.1875, "color": "#1a1a1a"},
    {"offset": 0.1875, "color": "#8a8a8a"}, {"offset": 0.2219, "color": "#8a8a8a"}, {"offset": 0.2219, "color": "#1a1a1a"}, {"offset": 0.25, "color": "#1a1a1a"},
    {"offset": 0.25, "color": "#8a8a8a"}, {"offset": 0.2844, "color": "#8a8a8a"}, {"offset": 0.2844, "color": "#1a1a1a"}, {"offset": 0.3125, "color": "#1a1a1a"},
    {"offset": 0.3125, "color": "#8a8a8a"}, {"offset": 0.3469, "color": "#8a8a8a"}, {"offset": 0.3469, "color": "#1a1a1a"}, {"offset": 0.375, "color": "#1a1a1a"},
    {"offset": 0.375, "color": "#8a8a8a"}, {"offset": 0.4094, "color": "#8a8a8a"}, {"offset": 0.4094, "color": "#1a1a1a"}, {"offset": 0.4375, "color": "#1a1a1a"},
    {"offset": 0.4375, "color": "#8a8a8a"}, {"offset": 0.4719, "color": "#8a8a8a"}, {"offset": 0.4719, "color": "#1a1a1a"}, {"offset": 0.5, "color": "#1a1a1a"},
    {"offset": 0.5, "color": "#8a8a8a"}, {"offset": 0.5344, "color": "#8a8a8a"}, {"offset": 0.5344, "color": "#1a1a1a"}, {"offset": 0.5625, "color": "#1a1a1a"},
    {"offset": 0.5625, "color": "#8a8a8a"}, {"offset": 0.5969, "color": "#8a8a8a"}, {"offset": 0.5969, "color": "#1a1a1a"}, {"offset": 0.625, "color": "#1a1a1a"},
    {"offset": 0.625, "color": "#8a8a8a"}, {"offset": 0.6594, "color": "#8a8a8a"}, {"offset": 0.6594, "color": "#1a1a1a"}, {"offset": 0.6875, "color": "#1a1a1a"},
    {"offset": 0.6875, "color": "#8a8a8a"}, {"offset": 0.7219, "color": "#8a8a8a"}, {"offset": 0.7219, "color": "#1a1a1a"}, {"offset": 0.75, "color": "#1a1a1a"},
    {"offset": 0.75, "color": "#8a8a8a"}, {"offset": 0.7844, "color": "#8a8a8a"}, {"offset": 0.7844, "color": "#1a1a1a"}, {"offset": 0.8125, "color": "#1a1a1a"},
    {"offset": 0.8125, "color": "#8a8a8a"}, {"offset": 0.8469, "color": "#8a8a8a"}, {"offset": 0.8469, "color": "#1a1a1a"}, {"offset": 0.875, "color": "#1a1a1a"},
    {"offset": 0.875, "color": "#8a8a8a"}, {"offset": 0.9094, "color": "#8a8a8a"}, {"offset": 0.9094, "color": "#1a1a1a"}, {"offset": 0.9375, "color": "#1a1a1a"},
    {"offset": 0.9375, "color": "#8a8a8a"}, {"offset": 0.9719, "color": "#8a8a8a"}, {"offset": 0.9719, "color": "#1a1a1a"}, {"offset": 1, "color": "#1a1a1a"}]}}},
  {"transform": [{"filter": "datum.cond == '5'"}],
   "encoding": {"y": {"field": "value", "type": "quantitative", "axis": null}},
   "mark": {"type": "bar", "stroke": "black", "strokeWidth": 1, "opacity": 1, "fill": {"gradient": "linear", "x1": 0, "y1": 0, "x2": 1, "y2": 0, "stops": [
    {"offset": 0, "color": "rgba(0,0,0,0)"}, {"offset": 0.11, "color": "rgba(0,0,0,0)"}, {"offset": 0.11, "color": "#1a1a1a"}, {"offset": 0.2, "color": "#1a1a1a"},
    {"offset": 0.2, "color": "rgba(0,0,0,0)"}, {"offset": 0.31, "color": "rgba(0,0,0,0)"}, {"offset": 0.31, "color": "#1a1a1a"}, {"offset": 0.4, "color": "#1a1a1a"},
    {"offset": 0.4, "color": "rgba(0,0,0,0)"}, {"offset": 0.51, "color": "rgba(0,0,0,0)"}, {"offset": 0.51, "color": "#1a1a1a"}, {"offset": 0.6, "color": "#1a1a1a"},
    {"offset": 0.6, "color": "rgba(0,0,0,0)"}, {"offset": 0.71, "color": "rgba(0,0,0,0)"}, {"offset": 0.71, "color": "#1a1a1a"}, {"offset": 0.8, "color": "#1a1a1a"},
    {"offset": 0.8, "color": "rgba(0,0,0,0)"}, {"offset": 0.91, "color": "rgba(0,0,0,0)"}, {"offset": 0.91, "color": "#1a1a1a"}, {"offset": 1, "color": "#1a1a1a"}]}}},
  {"mark": {"type": "rule", "color": "black"}, "encoding": {"y": {"field": "value", "type": "quantitative", "axis": null}, "y2": {"field": "hi"}}},
  {"mark": {"type": "tick", "color": "black", "size": 11, "thickness": 1, "opacity": 1},
   "encoding": {
    "y": {"field": "hi", "type": "quantitative", "axis": {"orient": "left", "title": "E", "domain": false, "ticks": false, "labels": false, "grid": false, "titleAngle": 0, "titleAlign": "center", "titleBaseline": "alphabetic", "titleFontSize": 13, "titleFontWeight": "bold", "titleX": -52.3, "titleY": -2.3}},
    "x": {"field": "cond", "type": "nominal", "axis": {"orient": "top", "title": "hTLR8 / mTLR7", "domain": false, "ticks": false, "labels": false, "grid": false, "titleAngle": 0, "titleAlign": "center", "titleBaseline": "alphabetic", "titleFontSize": 14, "titleFontWeight": "bold", "titleX": 245, "titleY": -1}}}},
  {"mark": {"type": "text", "color": "#808080", "fontSize": 14, "baseline": "alphabetic", "dy": 5},
   "encoding": {"y": {"field": "hi", "type": "quantitative", "axis": null}, "text": {"field": "sig"}}},
  {"data": {"values": [{"cond": "1"}]},
   "mark": {"type": "tick", "color": "#808080", "thickness": 1.5, "size": 118, "xOffset": 16.8, "opacity": 1},
   "encoding": {"y": {"datum": -36.6, "type": "quantitative", "axis": null}}}
 ]
},
{
 "width": 200, "height": 123,
 "data": {"values": [
  {"cond": "-", "value": 93.5, "hi": 95, "sig": ""},
  {"cond": "IFN-γ", "value": 223.5, "hi": 232.5, "sig": ""},
  {"cond": "0.5", "value": 225, "hi": 227, "sig": ""},
  {"cond": "1", "value": 231, "hi": 232.5, "sig": ""},
  {"cond": "5", "value": 199, "hi": 200.5, "sig": "**"},
  {"cond": "10", "value": 151.5, "hi": 153.5, "sig": "***"}
 ]},
 "resolve": {"axis": {"x": "independent", "y": "independent"}},
 "encoding": {"x": {"field": "cond", "type": "nominal", "axis": null}},
 "layer": [
  {"mark": {"type": "bar", "stroke": "black", "strokeWidth": 1, "opacity": 1},
   "encoding": {
    "x": {"field": "cond", "type": "nominal", "scale": {"domain": ["-", "IFN-γ", "0.5", "1", "5", "10"], "paddingInner": 0.343, "paddingOuter": 0.158, "align": 0.594},
          "axis": {"ticks": false, "labelAngle": 0, "labelOverlap": false, "labelLimit": 0, "labelFontSize": 12, "labelPadding": 3,
                   "title": ["ssRNA40 (μg/ml)", "+ IFN-γ"], "titleX": 131, "titleY": 33, "titleFontSize": 10.5, "titleLineHeight": 11, "titleAlign": "center", "titleBaseline": "alphabetic"}},
    "y": {"field": "value", "type": "quantitative", "scale": {"domain": [0, 250], "nice": false},
          "axis": {"values": [0, 50, 100, 150, 200, 250], "title": ["MHC-I expression", "(MFI ± SEM)"], "titleFontSize": 12, "titleLineHeight": 15, "labelFontSize": 9, "tickSize": 4, "labelPadding": 2, "titlePadding": 5}},
    "fill": {"field": "cond", "type": "nominal", "scale": {"domain": ["-", "IFN-γ", "0.5", "1", "5", "10"], "range": ["white", "#d9d9d9", "#555555", "#7a7a7a", "#3a3a3a", "#000000"]}, "legend": null}
   }},
  {"transform": [{"filter": "datum.cond == '0.5'"}],
   "encoding": {"y": {"field": "value", "type": "quantitative", "axis": null}},
   "mark": {"type": "bar", "stroke": "black", "strokeWidth": 1, "opacity": 1, "fill": {"gradient": "linear", "x1": 0, "y1": 0, "x2": 1, "y2": 0, "stops": [
    {"offset": 0, "color": "#8c8c8c"}, {"offset": 0.11, "color": "#8c8c8c"}, {"offset": 0.11, "color": "#1a1a1a"}, {"offset": 0.2, "color": "#1a1a1a"},
    {"offset": 0.2, "color": "#8c8c8c"}, {"offset": 0.31, "color": "#8c8c8c"}, {"offset": 0.31, "color": "#1a1a1a"}, {"offset": 0.4, "color": "#1a1a1a"},
    {"offset": 0.4, "color": "#8c8c8c"}, {"offset": 0.51, "color": "#8c8c8c"}, {"offset": 0.51, "color": "#1a1a1a"}, {"offset": 0.6, "color": "#1a1a1a"},
    {"offset": 0.6, "color": "#8c8c8c"}, {"offset": 0.71, "color": "#8c8c8c"}, {"offset": 0.71, "color": "#1a1a1a"}, {"offset": 0.8, "color": "#1a1a1a"},
    {"offset": 0.8, "color": "#8c8c8c"}, {"offset": 0.91, "color": "#8c8c8c"}, {"offset": 0.91, "color": "#1a1a1a"}, {"offset": 1, "color": "#1a1a1a"}]}}},
  {"transform": [{"filter": "datum.cond == '5'"}],
   "encoding": {"y": {"field": "value", "type": "quantitative", "axis": null}},
   "mark": {"type": "bar", "stroke": "black", "strokeWidth": 1, "opacity": 1, "fill": {"gradient": "linear", "x1": 0, "y1": 0, "x2": 0, "y2": 1, "stops": [
    {"offset": 0, "color": "#8a8a8a"}, {"offset": 0.0344, "color": "#8a8a8a"}, {"offset": 0.0344, "color": "#1a1a1a"}, {"offset": 0.0625, "color": "#1a1a1a"},
    {"offset": 0.0625, "color": "#8a8a8a"}, {"offset": 0.0969, "color": "#8a8a8a"}, {"offset": 0.0969, "color": "#1a1a1a"}, {"offset": 0.125, "color": "#1a1a1a"},
    {"offset": 0.125, "color": "#8a8a8a"}, {"offset": 0.1594, "color": "#8a8a8a"}, {"offset": 0.1594, "color": "#1a1a1a"}, {"offset": 0.1875, "color": "#1a1a1a"},
    {"offset": 0.1875, "color": "#8a8a8a"}, {"offset": 0.2219, "color": "#8a8a8a"}, {"offset": 0.2219, "color": "#1a1a1a"}, {"offset": 0.25, "color": "#1a1a1a"},
    {"offset": 0.25, "color": "#8a8a8a"}, {"offset": 0.2844, "color": "#8a8a8a"}, {"offset": 0.2844, "color": "#1a1a1a"}, {"offset": 0.3125, "color": "#1a1a1a"},
    {"offset": 0.3125, "color": "#8a8a8a"}, {"offset": 0.3469, "color": "#8a8a8a"}, {"offset": 0.3469, "color": "#1a1a1a"}, {"offset": 0.375, "color": "#1a1a1a"},
    {"offset": 0.375, "color": "#8a8a8a"}, {"offset": 0.4094, "color": "#8a8a8a"}, {"offset": 0.4094, "color": "#1a1a1a"}, {"offset": 0.4375, "color": "#1a1a1a"},
    {"offset": 0.4375, "color": "#8a8a8a"}, {"offset": 0.4719, "color": "#8a8a8a"}, {"offset": 0.4719, "color": "#1a1a1a"}, {"offset": 0.5, "color": "#1a1a1a"},
    {"offset": 0.5, "color": "#8a8a8a"}, {"offset": 0.5344, "color": "#8a8a8a"}, {"offset": 0.5344, "color": "#1a1a1a"}, {"offset": 0.5625, "color": "#1a1a1a"},
    {"offset": 0.5625, "color": "#8a8a8a"}, {"offset": 0.5969, "color": "#8a8a8a"}, {"offset": 0.5969, "color": "#1a1a1a"}, {"offset": 0.625, "color": "#1a1a1a"},
    {"offset": 0.625, "color": "#8a8a8a"}, {"offset": 0.6594, "color": "#8a8a8a"}, {"offset": 0.6594, "color": "#1a1a1a"}, {"offset": 0.6875, "color": "#1a1a1a"},
    {"offset": 0.6875, "color": "#8a8a8a"}, {"offset": 0.7219, "color": "#8a8a8a"}, {"offset": 0.7219, "color": "#1a1a1a"}, {"offset": 0.75, "color": "#1a1a1a"},
    {"offset": 0.75, "color": "#8a8a8a"}, {"offset": 0.7844, "color": "#8a8a8a"}, {"offset": 0.7844, "color": "#1a1a1a"}, {"offset": 0.8125, "color": "#1a1a1a"},
    {"offset": 0.8125, "color": "#8a8a8a"}, {"offset": 0.8469, "color": "#8a8a8a"}, {"offset": 0.8469, "color": "#1a1a1a"}, {"offset": 0.875, "color": "#1a1a1a"},
    {"offset": 0.875, "color": "#8a8a8a"}, {"offset": 0.9094, "color": "#8a8a8a"}, {"offset": 0.9094, "color": "#1a1a1a"}, {"offset": 0.9375, "color": "#1a1a1a"},
    {"offset": 0.9375, "color": "#8a8a8a"}, {"offset": 0.9719, "color": "#8a8a8a"}, {"offset": 0.9719, "color": "#1a1a1a"}, {"offset": 1, "color": "#1a1a1a"}]}}},
  {"transform": [{"filter": "datum.cond == '5'"}],
   "encoding": {"y": {"field": "value", "type": "quantitative", "axis": null}},
   "mark": {"type": "bar", "stroke": "black", "strokeWidth": 1, "opacity": 1, "fill": {"gradient": "linear", "x1": 0, "y1": 0, "x2": 1, "y2": 0, "stops": [
    {"offset": 0, "color": "rgba(0,0,0,0)"}, {"offset": 0.11, "color": "rgba(0,0,0,0)"}, {"offset": 0.11, "color": "#1a1a1a"}, {"offset": 0.2, "color": "#1a1a1a"},
    {"offset": 0.2, "color": "rgba(0,0,0,0)"}, {"offset": 0.31, "color": "rgba(0,0,0,0)"}, {"offset": 0.31, "color": "#1a1a1a"}, {"offset": 0.4, "color": "#1a1a1a"},
    {"offset": 0.4, "color": "rgba(0,0,0,0)"}, {"offset": 0.51, "color": "rgba(0,0,0,0)"}, {"offset": 0.51, "color": "#1a1a1a"}, {"offset": 0.6, "color": "#1a1a1a"},
    {"offset": 0.6, "color": "rgba(0,0,0,0)"}, {"offset": 0.71, "color": "rgba(0,0,0,0)"}, {"offset": 0.71, "color": "#1a1a1a"}, {"offset": 0.8, "color": "#1a1a1a"},
    {"offset": 0.8, "color": "rgba(0,0,0,0)"}, {"offset": 0.91, "color": "rgba(0,0,0,0)"}, {"offset": 0.91, "color": "#1a1a1a"}, {"offset": 1, "color": "#1a1a1a"}]}}},
  {"mark": {"type": "rule", "color": "black"}, "encoding": {"y": {"field": "value", "type": "quantitative", "axis": null}, "y2": {"field": "hi"}}},
  {"mark": {"type": "tick", "color": "black", "size": 11, "thickness": 1, "opacity": 1},
   "encoding": {
    "y": {"field": "hi", "type": "quantitative", "axis": {"orient": "left", "title": "F", "domain": false, "ticks": false, "labels": false, "grid": false, "titleAngle": 0, "titleAlign": "center", "titleBaseline": "alphabetic", "titleFontSize": 13, "titleFontWeight": "bold", "titleX": -41.5, "titleY": 1}}}},
  {"mark": {"type": "text", "color": "#808080", "fontSize": 14, "baseline": "alphabetic", "dy": 5},
   "encoding": {"y": {"field": "hi", "type": "quantitative", "axis": null}, "text": {"field": "sig"}}},
  {"data": {"values": [{"cond": "5"}]},
   "mark": {"type": "tick", "color": "#808080", "thickness": 1.5, "size": 109, "xOffset": -16.8, "opacity": 1},
   "encoding": {"y": {"datum": -40, "type": "quantitative", "axis": null}}}
 ]
},
{
 "width": 198, "height": 127,
 "data": {"values": [
  {"cond": "-", "value": 43.5, "hi": 47, "sig": ""},
  {"cond": "mIFN-γ", "value": 150, "hi": 160, "sig": ""},
  {"cond": "0.5", "value": 152, "hi": 153, "sig": ""},
  {"cond": "5", "value": 139.5, "hi": 142, "sig": ""},
  {"cond": "10", "value": 59, "hi": 60, "sig": "***"}
 ]},
 "resolve": {"axis": {"x": "independent", "y": "independent"}},
 "encoding": {"x": {"field": "cond", "type": "nominal", "axis": null}},
 "layer": [
  {"mark": {"type": "bar", "stroke": "black", "strokeWidth": 1, "opacity": 1},
   "encoding": {
    "x": {"field": "cond", "type": "nominal", "scale": {"domain": ["-", "mIFN-γ", "0.5", "5", "10"], "paddingInner": 0.323, "paddingOuter": 0.292, "align": 0.577},
          "axis": {"ticks": false, "labelAngle": 0, "labelOverlap": false, "labelLimit": 0, "labelFontSize": 11.5, "labelPadding": 3,
                   "title": ["ssRNA40 (μg/ml)", "+ mIFN-γ"], "titleX": 139, "titleY": 33, "titleFontSize": 10, "titleLineHeight": 11, "titleAlign": "center", "titleBaseline": "alphabetic"}},
    "y": {"field": "value", "type": "quantitative", "scale": {"domain": [0, 200], "nice": false},
          "axis": {"values": [0, 50, 100, 150, 200], "title": ["MHC-I (H-2Kᵈ/H-2Dᵈ)", "expression", "(MFI ± SEM)"], "titleFontSize": 11.5, "titleLineHeight": 15, "labelFontSize": 8.5, "tickSize": 4, "labelPadding": 2, "titlePadding": 4}},
    "fill": {"field": "cond", "type": "nominal", "scale": {"domain": ["-", "mIFN-γ", "0.5", "5", "10"], "range": ["white", "#d9d9d9", "#555555", "#555555", "#3d3d3d"]}, "legend": null}
   }},
  {"transform": [{"filter": "datum.cond == '0.5'"}],
   "encoding": {"y": {"field": "value", "type": "quantitative", "axis": null}},
   "mark": {"type": "bar", "stroke": "black", "strokeWidth": 1, "opacity": 1, "fill": {"gradient": "linear", "x1": 0, "y1": 0, "x2": 0.312, "y2": 1.1817, "stops": [
    {"offset": 0, "color": "#8c8c8c"}, {"offset": 0.0417, "color": "#8c8c8c"}, {"offset": 0.0417, "color": "#1a1a1a"}, {"offset": 0.0833, "color": "#1a1a1a"},
    {"offset": 0.0833, "color": "#8c8c8c"}, {"offset": 0.125, "color": "#8c8c8c"}, {"offset": 0.125, "color": "#1a1a1a"}, {"offset": 0.1667, "color": "#1a1a1a"},
    {"offset": 0.1667, "color": "#8c8c8c"}, {"offset": 0.2083, "color": "#8c8c8c"}, {"offset": 0.2083, "color": "#1a1a1a"}, {"offset": 0.25, "color": "#1a1a1a"},
    {"offset": 0.25, "color": "#8c8c8c"}, {"offset": 0.2917, "color": "#8c8c8c"}, {"offset": 0.2917, "color": "#1a1a1a"}, {"offset": 0.3333, "color": "#1a1a1a"},
    {"offset": 0.3333, "color": "#8c8c8c"}, {"offset": 0.375, "color": "#8c8c8c"}, {"offset": 0.375, "color": "#1a1a1a"}, {"offset": 0.4167, "color": "#1a1a1a"},
    {"offset": 0.4167, "color": "#8c8c8c"}, {"offset": 0.4583, "color": "#8c8c8c"}, {"offset": 0.4583, "color": "#1a1a1a"}, {"offset": 0.5, "color": "#1a1a1a"},
    {"offset": 0.5, "color": "#8c8c8c"}, {"offset": 0.5417, "color": "#8c8c8c"}, {"offset": 0.5417, "color": "#1a1a1a"}, {"offset": 0.5833, "color": "#1a1a1a"},
    {"offset": 0.5833, "color": "#8c8c8c"}, {"offset": 0.625, "color": "#8c8c8c"}, {"offset": 0.625, "color": "#1a1a1a"}, {"offset": 0.6667, "color": "#1a1a1a"},
    {"offset": 0.6667, "color": "#8c8c8c"}, {"offset": 0.7083, "color": "#8c8c8c"}, {"offset": 0.7083, "color": "#1a1a1a"}, {"offset": 0.75, "color": "#1a1a1a"},
    {"offset": 0.75, "color": "#8c8c8c"}, {"offset": 0.7917, "color": "#8c8c8c"}, {"offset": 0.7917, "color": "#1a1a1a"}, {"offset": 0.8333, "color": "#1a1a1a"},
    {"offset": 0.8333, "color": "#8c8c8c"}, {"offset": 0.875, "color": "#8c8c8c"}, {"offset": 0.875, "color": "#1a1a1a"}, {"offset": 0.9167, "color": "#1a1a1a"},
    {"offset": 0.9167, "color": "#8c8c8c"}, {"offset": 0.9583, "color": "#8c8c8c"}, {"offset": 0.9583, "color": "#1a1a1a"}, {"offset": 1, "color": "#1a1a1a"}]}}},
  {"transform": [{"filter": "datum.cond == '5'"}],
   "encoding": {"y": {"field": "value", "type": "quantitative", "axis": null}},
   "mark": {"type": "bar", "stroke": "black", "strokeWidth": 1, "opacity": 1, "fill": {"gradient": "linear", "x1": 0, "y1": 0, "x2": 1, "y2": 0, "stops": [
    {"offset": 0, "color": "#8c8c8c"}, {"offset": 0.11, "color": "#8c8c8c"}, {"offset": 0.11, "color": "#1a1a1a"}, {"offset": 0.2, "color": "#1a1a1a"},
    {"offset": 0.2, "color": "#8c8c8c"}, {"offset": 0.31, "color": "#8c8c8c"}, {"offset": 0.31, "color": "#1a1a1a"}, {"offset": 0.4, "color": "#1a1a1a"},
    {"offset": 0.4, "color": "#8c8c8c"}, {"offset": 0.51, "color": "#8c8c8c"}, {"offset": 0.51, "color": "#1a1a1a"}, {"offset": 0.6, "color": "#1a1a1a"},
    {"offset": 0.6, "color": "#8c8c8c"}, {"offset": 0.71, "color": "#8c8c8c"}, {"offset": 0.71, "color": "#1a1a1a"}, {"offset": 0.8, "color": "#1a1a1a"},
    {"offset": 0.8, "color": "#8c8c8c"}, {"offset": 0.91, "color": "#8c8c8c"}, {"offset": 0.91, "color": "#1a1a1a"}, {"offset": 1, "color": "#1a1a1a"}]}}},
  {"mark": {"type": "rule", "color": "black"}, "encoding": {"y": {"field": "value", "type": "quantitative", "axis": null}, "y2": {"field": "hi"}}},
  {"mark": {"type": "tick", "color": "black", "size": 12, "thickness": 1, "opacity": 1},
   "encoding": {
    "y": {"field": "hi", "type": "quantitative", "axis": {"orient": "left", "title": "G", "domain": false, "ticks": false, "labels": false, "grid": false, "titleAngle": 0, "titleAlign": "center", "titleBaseline": "alphabetic", "titleFontSize": 13, "titleFontWeight": "bold", "titleX": -50, "titleY": -24.3}}}},
  {"mark": {"type": "text", "color": "#808080", "fontSize": 14, "baseline": "alphabetic", "dy": 5},
   "encoding": {"y": {"field": "hi", "type": "quantitative", "axis": null}, "text": {"field": "sig"}}},
  {"data": {"values": [{"cond": "5"}]},
   "mark": {"type": "tick", "color": "#808080", "thickness": 1.5, "size": 95, "xOffset": 0, "opacity": 1},
   "encoding": {"y": {"datum": -28.3, "type": "quantitative", "axis": null}}}
 ]
},
{
 "width": 186, "height": 127,
 "data": {"values": [
  {"grp": "-", "ser": "WT", "value": 257, "hi": 267, "sig": ""},
  {"grp": "-", "ser": "TLR7 KO", "value": 273, "hi": 295, "sig": ""},
  {"grp": "mIFN-γ", "ser": "WT", "value": 455, "hi": 477, "sig": ""},
  {"grp": "mIFN-γ", "ser": "TLR7 KO", "value": 477, "hi": 497, "sig": ""},
  {"grp": "25:1", "ser": "WT", "value": 344, "hi": 367, "sig": "**"},
  {"grp": "25:1", "ser": "TLR7 KO", "value": 428, "hi": 441, "sig": ""},
  {"grp": "50:1", "ser": "WT", "value": 291, "hi": 297, "sig": "***"},
  {"grp": "50:1", "ser": "TLR7 KO", "value": 420, "hi": 437, "sig": ""},
  {"grp": "100:1", "ser": "WT", "value": 281, "hi": 284, "sig": "***"},
  {"grp": "100:1", "ser": "TLR7 KO", "value": 361, "hi": 384, "sig": "*"}
 ]},
 "resolve": {"axis": {"x": "independent", "y": "independent"}},
 "encoding": {"x": {"field": "grp", "type": "nominal", "axis": null}},
 "layer": [
  {"mark": {"type": "bar", "stroke": "black", "strokeWidth": 1, "opacity": 1},
   "encoding": {
    "x": {"field": "grp", "type": "nominal", "scale": {"domain": ["-", "mIFN-γ", "25:1", "50:1", "100:1"], "paddingInner": 0.333, "paddingOuter": 0.147, "align": 0.727},
          "axis": {"ticks": false, "labelAngle": 0, "labelOverlap": false, "labelLimit": 0, "labelFontSize": 9.5, "labelPadding": 4,
                   "title": "B. abortus + mIFN-γ", "titleX": 133, "titleY": 29.7, "titleFontSize": 10, "titleAlign": "center", "titleBaseline": "alphabetic"}},
    "xOffset": {"field": "ser", "type": "nominal", "scale": {"domain": ["WT", "TLR7 KO"], "paddingInner": 0.31, "paddingOuter": 0.017}},
    "y": {"field": "value", "type": "quantitative", "scale": {"domain": [0, 500], "nice": false},
          "axis": {"values": [0, 100, 200, 300, 400, 500], "title": ["MHC-I (H-2Kᵈ/H-2Dᵈ)", "expression", "(MFI ± SEM)"], "titleFontSize": 9, "titleLineHeight": 11, "labelFontSize": 9, "tickSize": 4, "labelPadding": 2, "titlePadding": 5}},
    "fill": {"field": "ser", "type": "nominal", "scale": {"domain": ["WT", "TLR7 KO"], "range": ["white", "black"]},
          "legend": {"orient": "none", "legendX": 193.5, "legendY": 4, "title": null, "symbolType": "M-2.2,-1H2.2V1H-2.2Z", "symbolSize": 45, "symbolStrokeColor": "black", "symbolStrokeWidth": 1, "labelFontSize": 11, "labelOffset": 7.8, "rowPadding": 4}}
   }},
  {"mark": {"type": "rule", "color": "black"}, "encoding": {"xOffset": {"field": "ser", "type": "nominal"}, "y": {"field": "value", "type": "quantitative", "axis": null}, "y2": {"field": "hi"}}},
  {"mark": {"type": "tick", "color": "black", "size": 7, "thickness": 1, "opacity": 1},
   "encoding": {"xOffset": {"field": "ser", "type": "nominal"},
    "y": {"field": "hi", "type": "quantitative", "axis": {"orient": "left", "title": "H", "domain": false, "ticks": false, "labels": false, "grid": false, "titleAngle": 0, "titleAlign": "center", "titleBaseline": "alphabetic", "titleFontSize": 13, "titleFontWeight": "bold", "titleX": -41.2, "titleY": -24.3}}}},
  {"mark": {"type": "text", "color": "#808080", "fontSize": 13, "baseline": "alphabetic", "dy": 5},
   "encoding": {"xOffset": {"field": "ser", "type": "nominal"}, "y": {"field": "hi", "type": "quantitative", "axis": null}, "text": {"field": "sig"}}},
  {"data": {"values": [{"grp": "25:1", "lbl": "##", "yv": 473}, {"grp": "50:1", "lbl": "##", "yv": 473}, {"grp": "100:1", "lbl": "#", "yv": 473}]},
   "mark": {"type": "tick", "color": "#333333", "size": 23, "thickness": 1, "opacity": 1},
   "encoding": {"y": {"field": "yv", "type": "quantitative", "axis": null}}},
  {"data": {"values": [{"grp": "25:1", "lbl": "##", "yv": 473}, {"grp": "50:1", "lbl": "##", "yv": 473}, {"grp": "100:1", "lbl": "#", "yv": 473}]},
   "mark": {"type": "text", "color": "#333333", "fontSize": 10, "baseline": "alphabetic", "dy": -3},
   "encoding": {"y": {"field": "yv", "type": "quantitative", "axis": null}, "text": {"field": "lbl"}}},
  {"data": {"values": [{"grp": "50:1"}]},
   "mark": {"type": "tick", "color": "#555555", "thickness": 1, "size": 103, "xOffset": 1.5, "opacity": 1},
   "encoding": {"y": {"datum": -73.6, "type": "quantitative", "axis": null}}}
 ]
},
{
 "width": 199, "height": 129,
 "data": {"values": [
  {"grp": "-", "ser": "WT", "value": 198, "hi": 217, "sig": ""},
  {"grp": "-", "ser": "TLR7 KO", "value": 211, "hi": 248, "sig": ""},
  {"grp": "mIFN-γ", "ser": "WT", "value": 367, "hi": 395, "sig": ""},
  {"grp": "mIFN-γ", "ser": "TLR7 KO", "value": 380, "hi": 422, "sig": ""},
  {"grp": "1", "ser": "WT", "value": 283, "hi": 295, "sig": ""},
  {"grp": "1", "ser": "TLR7 KO", "value": 380, "hi": 444, "sig": ""},
  {"grp": "5", "ser": "WT", "value": 184, "hi": 199, "sig": "***"},
  {"grp": "5", "ser": "TLR7 KO", "value": 372, "hi": 438, "sig": ""},
  {"grp": "10", "ser": "WT", "value": 169, "hi": 180, "sig": "***"},
  {"grp": "10", "ser": "TLR7 KO", "value": 401, "hi": 416, "sig": ""}
 ]},
 "resolve": {"axis": {"x": "independent", "y": "independent"}},
 "encoding": {"x": {"field": "grp", "type": "nominal", "axis": null}},
 "layer": [
  {"mark": {"type": "bar", "stroke": "black", "strokeWidth": 1, "opacity": 1},
   "encoding": {
    "x": {"field": "grp", "type": "nominal", "scale": {"domain": ["-", "mIFN-γ", "1", "5", "10"], "paddingInner": 0.36, "paddingOuter": 0.128, "align": 0.93},
          "axis": {"ticks": false, "labelAngle": 0, "labelOverlap": false, "labelLimit": 0, "labelFontSize": 10.5, "labelPadding": 2,
                   "title": "Ba RNA (μg/ml) + mIFN-γ", "titleX": 141, "titleY": 31, "titleFontSize": 10.5, "titleAlign": "center", "titleBaseline": "alphabetic"}},
    "xOffset": {"field": "ser", "type": "nominal", "scale": {"domain": ["WT", "TLR7 KO"], "paddingInner": 0.267, "paddingOuter": 0}},
    "y": {"field": "value", "type": "quantitative", "scale": {"domain": [0, 500], "nice": false},
          "axis": {"values": [0, 100, 200, 300, 400, 500], "title": ["MHC-I (H-2Kᵈ/H-2Dᵈ)", "expression", "(MFI ± SEM)"], "titleFontSize": 10, "titleLineHeight": 12, "labelFontSize": 9.5, "tickSize": 4, "labelPadding": 2, "titlePadding": 5}},
    "fill": {"field": "ser", "type": "nominal", "scale": {"domain": ["WT", "TLR7 KO"], "range": ["white", "black"]},
          "legend": {"orient": "none", "legendX": 211.5, "legendY": -8.8, "title": null, "symbolType": "M-2,-1H2V1H-2Z", "symbolSize": 45, "symbolStrokeColor": "black", "symbolStrokeWidth": 1, "labelFontSize": 11, "labelOffset": 5.9, "rowPadding": 1.7}}
   }},
  {"mark": {"type": "rule", "color": "black"}, "encoding": {"xOffset": {"field": "ser", "type": "nominal"}, "y": {"field": "value", "type": "quantitative", "axis": null}, "y2": {"field": "hi"}}},
  {"mark": {"type": "tick", "color": "black", "size": 8, "thickness": 1, "opacity": 1},
   "encoding": {"xOffset": {"field": "ser", "type": "nominal"},
    "y": {"field": "hi", "type": "quantitative", "axis": {"orient": "left", "title": "I", "domain": false, "ticks": false, "labels": false, "grid": false, "titleAngle": 0, "titleAlign": "center", "titleBaseline": "alphabetic", "titleFontSize": 13, "titleFontWeight": "bold", "titleX": -48.5, "titleY": -36.7}}}},
  {"mark": {"type": "text", "color": "#808080", "fontSize": 13, "baseline": "alphabetic", "dy": 5},
   "encoding": {"xOffset": {"field": "ser", "type": "nominal"}, "y": {"field": "hi", "type": "quantitative", "axis": null}, "text": {"field": "sig"}}},
  {"data": {"values": [{"grp": "5", "lbl": "##", "yv": 463}, {"grp": "10", "lbl": "###", "yv": 441}]},
   "mark": {"type": "tick", "color": "#333333", "size": 22, "thickness": 1, "opacity": 1},
   "encoding": {"y": {"field": "yv", "type": "quantitative", "axis": null}}},
  {"data": {"values": [{"grp": "5", "lbl": "##", "yv": 463}, {"grp": "10", "lbl": "###", "yv": 441}]},
   "mark": {"type": "text", "color": "#333333", "fontSize": 10, "baseline": "alphabetic", "dy": -3},
   "encoding": {"y": {"field": "yv", "type": "quantitative", "axis": null}, "text": {"field": "lbl"}}},
  {"data": {"values": [{"grp": "5"}]},
   "mark": {"type": "tick", "color": "#555555", "thickness": 1, "size": 105, "xOffset": 1.9, "opacity": 1},
   "encoding": {"y": {"datum": -58, "type": "quantitative", "axis": null}}}
 ]
},
{
 "width": 186, "height": 129,
 "data": {"values": [
  {"grp": "-", "ser": "ISOTYPE", "value": 44, "hi": 45.5, "sig": ""},
  {"grp": "-", "ser": "CETUXIMAB", "value": 46.5, "hi": 53.5, "sig": ""},
  {"grp": "IFN-γ", "ser": "ISOTYPE", "value": 130, "hi": 140, "sig": ""},
  {"grp": "IFN-γ", "ser": "CETUXIMAB", "value": 126, "hi": 134.5, "sig": ""},
  {"grp": "ORN06 10 μg/ml|+ IFN-γ", "ser": "ISOTYPE", "value": 56, "hi": 60, "sig": "***"},
  {"grp": "ORN06 10 μg/ml|+ IFN-γ", "ser": "CETUXIMAB", "value": 108, "hi": 116, "sig": ""}
 ]},
 "resolve": {"axis": {"x": "independent", "y": "independent"}},
 "encoding": {"x": {"field": "grp", "type": "nominal", "axis": null}},
 "layer": [
  {"mark": {"type": "bar", "stroke": "black", "strokeWidth": 1, "opacity": 1},
   "encoding": {
    "x": {"field": "grp", "type": "nominal", "scale": {"domain": ["-", "IFN-γ", "ORN06 10 μg/ml|+ IFN-γ"], "paddingInner": 0.368, "paddingOuter": 0.537, "align": 0.21},
          "axis": {"title": null, "ticks": false, "labelAngle": 0, "labelOverlap": false, "labelLimit": 0, "labelFontSize": 9.5, "labelPadding": 3, "labelLineHeight": 12, "labelExpr": "split(datum.label, '|')"}},
    "xOffset": {"field": "ser", "type": "nominal", "scale": {"domain": ["ISOTYPE", "CETUXIMAB"], "paddingInner": 0.3, "paddingOuter": 0}},
    "y": {"field": "value", "type": "quantitative", "scale": {"domain": [0, 160], "nice": false},
          "axis": {"values": [0, 40, 80, 120, 160], "title": ["MHC-I expression", "(MFI ± SEM)"], "titleFontSize": 12.5, "titleLineHeight": 15, "labelFontSize": 9.5, "tickSize": 4, "labelPadding": 2, "titlePadding": 6}},
    "fill": {"field": "ser", "type": "nominal", "scale": {"domain": ["ISOTYPE", "CETUXIMAB"], "range": ["white", "black"]},
          "legend": {"orient": "none", "legendX": 149.5, "legendY": -1.5, "title": null, "symbolType": "M-2,-1H2V1H-2Z", "symbolSize": 40, "symbolStrokeColor": "black", "symbolStrokeWidth": 1, "labelFontSize": 10, "labelOffset": 9.9, "rowPadding": 2.3}}
   }},
  {"mark": {"type": "rule", "color": "black"}, "encoding": {"xOffset": {"field": "ser", "type": "nominal"}, "y": {"field": "value", "type": "quantitative", "axis": null}, "y2": {"field": "hi"}}},
  {"mark": {"type": "tick", "color": "black", "size": 9, "thickness": 1, "opacity": 1},
   "encoding": {"xOffset": {"field": "ser", "type": "nominal"},
    "y": {"field": "hi", "type": "quantitative", "axis": {"orient": "left", "title": "J", "domain": false, "ticks": false, "labels": false, "grid": false, "titleAngle": 0, "titleAlign": "center", "titleBaseline": "alphabetic", "titleFontSize": 13, "titleFontWeight": "bold", "titleX": -42, "titleY": -30}}}},
  {"mark": {"type": "text", "color": "#808080", "fontSize": 13, "baseline": "alphabetic", "dy": 5},
   "encoding": {"xOffset": {"field": "ser", "type": "nominal"}, "y": {"field": "hi", "type": "quantitative", "axis": null}, "text": {"field": "sig"}}},
  {"data": {"values": [{"grp": "ORN06 10 μg/ml|+ IFN-γ", "lbl": "###", "yv": 123.7}]},
   "mark": {"type": "tick", "color": "#333333", "size": 32, "thickness": 1, "opacity": 1},
   "encoding": {"y": {"field": "yv", "type": "quantitative", "axis": null}}},
  {"data": {"values": [{"grp": "ORN06 10 μg/ml|+ IFN-γ", "lbl": "###", "yv": 123.7}]},
   "mark": {"type": "text", "color": "#333333", "fontSize": 10, "baseline": "alphabetic", "dy": -3},
   "encoding": {"y": {"field": "yv", "type": "quantitative", "axis": null}, "text": {"field": "lbl"}}}
 ]
}
]
}
